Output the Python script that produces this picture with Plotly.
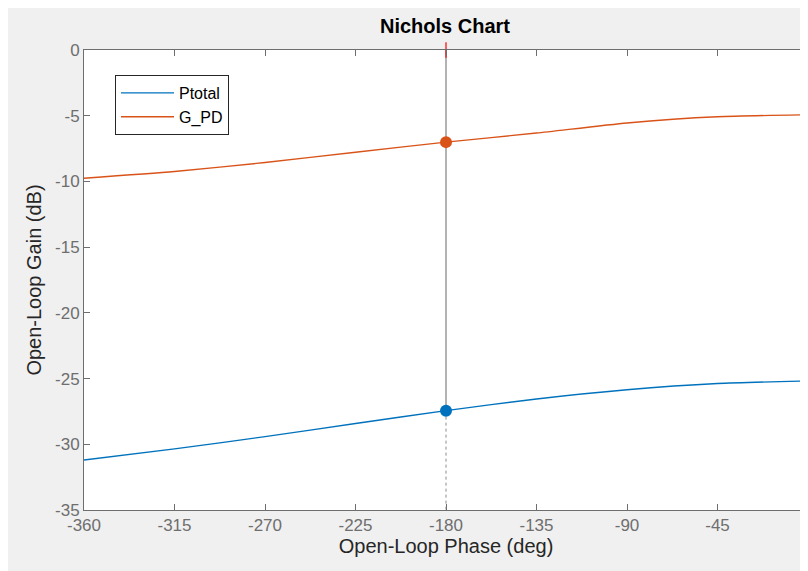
import plotly.graph_objects as go

# ---- data ----
phase_deg = [-360, -315, -270, -225, -180, -135, -90, -45, 0]
ptotal_gain_db = [-31.2, -30.35, -29.42, -28.42, -27.44, -26.55, -25.85, -25.38, -25.18]
gpd_gain_db = [-9.76, -9.25, -8.56, -7.78, -7.01, -6.32, -5.55, -5.08, -4.93]

margin_phase = -180
ptotal_at_margin = -27.44
gpd_at_margin = -7.01
critical_gain = 0

x_ticks = [-360, -315, -270, -225, -180, -135, -90, -45, 0]
y_ticks = [-35, -30, -25, -20, -15, -10, -5, 0]
x_range = [-360, 0]
y_range = [-35, 0]

blue = "#0072BD"
orange = "#D95319"
axis_col = "#6e6e6e"
FONT = "Liberation Sans, Arial, sans-serif"

fig = go.Figure()

fig.add_trace(go.Scatter(x=phase_deg, y=ptotal_gain_db, mode="lines", name="Ptotal",
                         line=dict(color=blue, width=1.4, shape="spline", smoothing=0.6)))
fig.add_trace(go.Scatter(x=phase_deg, y=gpd_gain_db, mode="lines", name="G_PD",
                         line=dict(color=orange, width=1.4, shape="spline", smoothing=0.6)))

# gain-margin vertical line: solid down to Ptotal point, dotted below
fig.add_trace(go.Scatter(x=[margin_phase, margin_phase], y=[critical_gain, ptotal_at_margin],
                         mode="lines", showlegend=False, hoverinfo="skip",
                         line=dict(color="#b3b3b3", width=2)))
fig.add_trace(go.Scatter(x=[margin_phase, margin_phase], y=[ptotal_at_margin, y_range[0]],
                         mode="lines", showlegend=False, hoverinfo="skip",
                         line=dict(color="#8c8c8c", width=1, dash="dot")))

# margin markers
fig.add_trace(go.Scatter(x=[margin_phase], y=[gpd_at_margin], mode="markers", showlegend=False,
                         marker=dict(color=orange, size=12)))
fig.add_trace(go.Scatter(x=[margin_phase], y=[ptotal_at_margin], mode="markers", showlegend=False,
                         marker=dict(color=blue, size=12)))

# critical point marker (red +)
fig.add_trace(go.Scatter(x=[margin_phase], y=[critical_gain], mode="markers", showlegend=False,
                         cliponaxis=False,
                         marker=dict(symbol="line-ns", size=11,
                                     line=dict(color="#ff0000", width=1.2))))

W, H = 800, 563
L, T, B = 76, 42, 61

fig.update_layout(
    width=W, height=H,
    margin=dict(l=L, r=0, t=T, b=B, pad=0),
    paper_bgcolor="#f0f0f0",
    plot_bgcolor="white",
    font=dict(family=FONT, color=axis_col),
    title=dict(text="<b>Nichols Chart</b>", x=437 / W, xanchor="center",
               y=1 - 18 / H, yanchor="middle",
               font=dict(size=20, color="#000000", family=FONT)),
    showlegend=True,
    legend=dict(x=31 / 724, y=(502 - 67) / 460, xanchor="left", yanchor="top",
                bgcolor="white", bordercolor="#262626", borderwidth=1,
                font=dict(size=16, color="#000000", family=FONT),
                tracegroupgap=0, itemwidth=53),
    xaxis=dict(range=x_range, tickvals=x_ticks, ticktext=[str(v) for v in x_ticks],
               ticks="inside", ticklen=6, tickcolor=axis_col, tickwidth=1,
               showline=True, linecolor=axis_col, linewidth=1, mirror="ticks",
               showgrid=False, zeroline=False,
               tickfont=dict(size=17, color=axis_col),
               title=dict(text="Open-Loop Phase (deg)", standoff=3,
                          font=dict(size=20, color="#262626"))),
    yaxis=dict(range=y_range, tickvals=y_ticks, ticktext=[str(v) for v in y_ticks],
               ticks="inside", ticklen=6, tickcolor=axis_col, tickwidth=1,
               showline=True, linecolor=axis_col, linewidth=1, mirror="ticks",
               showgrid=False, zeroline=False,
               tickfont=dict(size=17, color=axis_col),
               title=dict(text="Open-Loop Gain (dB)", standoff=8,
                          font=dict(size=20, color="#262626"))),
)

fig.write_html(
    "out.html",
    post_script="document.documentElement.style.overflow='hidden';"
                "document.body.style.overflow='hidden';",
)
